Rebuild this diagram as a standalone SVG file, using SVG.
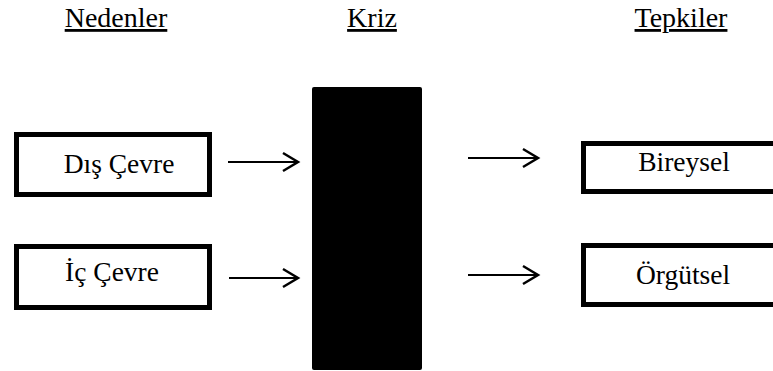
<svg xmlns="http://www.w3.org/2000/svg" width="773" height="371" viewBox="0 0 773 371">
  <style>
    text { font-family: "Liberation Serif", "Times New Roman", serif; fill: #000; text-anchor: middle; }
    .head { font-size: 28px; text-decoration: underline; }
    .label { font-size: 27.5px; }
    .box { fill: #fff; stroke: #000; stroke-width: 5; }
    .arrow { fill: none; stroke: #000; stroke-width: 2; marker-end: url(#chevron); }
  </style>
  <defs>
    <!-- open chevron arrowhead -->
    <marker id="chevron" markerUnits="userSpaceOnUse" markerWidth="20" markerHeight="24" viewBox="-17 -11 20 22" refX="0" refY="0" orient="auto" overflow="visible">
      <path d="M -15 -9 L 0 0 L -15 9" fill="none" stroke="#000" stroke-width="2.5" stroke-linejoin="miter"/>
    </marker>
  </defs>
  <rect width="773" height="371" fill="#fff"/>

  <!-- column headings -->
  <g id="heading-causes"><text class="head" x="116" y="27">Nedenler</text></g>
  <g id="heading-crisis"><text class="head" x="372" y="27">Kriz</text></g>
  <g id="heading-responses"><text class="head" x="681" y="27">Tepkiler</text></g>

  <!-- causes -->
  <g id="node-external">
    <rect class="box" x="16.5" y="134.5" width="193" height="60"/>
    <text class="label" x="119" y="173">Dış Çevre</text>
  </g>
  <g id="node-internal">
    <rect class="box" x="16.5" y="246.5" width="193" height="61"/>
    <text class="label" x="112" y="281">İç Çevre</text>
  </g>

  <!-- crisis block -->
  <g id="node-crisis">
    <rect x="312" y="87" width="110" height="283" rx="2" fill="#000"/>
  </g>

  <!-- responses -->
  <g id="node-individual">
    <rect class="box" x="583.5" y="143.5" width="210" height="48"/>
    <text class="label" x="684" y="171">Bireysel</text>
  </g>
  <g id="node-organizational">
    <rect class="box" x="583.5" y="245.5" width="210" height="59"/>
    <text class="label" x="683" y="284">Örgütsel</text>
  </g>

  <!-- connectors -->
  <g id="connectors">
    <line class="arrow" x1="228" y1="162" x2="298" y2="162"/>
    <line class="arrow" x1="229" y1="278" x2="298" y2="278"/>
    <line class="arrow" x1="468" y1="158" x2="538" y2="158"/>
    <line class="arrow" x1="468" y1="275" x2="538" y2="275"/>
  </g>
</svg>
